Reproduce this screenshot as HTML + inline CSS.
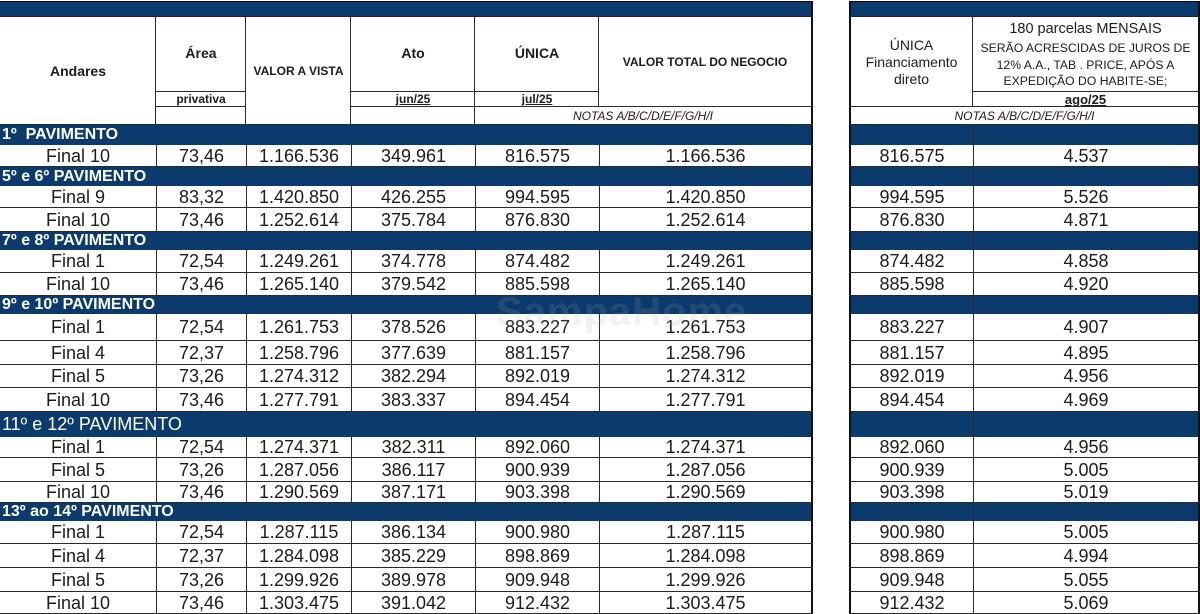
<!DOCTYPE html>
<html><head><meta charset="utf-8">
<style>
body{margin:0;width:1200px;height:613px;background:#fff;position:relative;overflow:hidden;font-family:"Liberation Sans",Arial,sans-serif;color:#1c1c1c}
div{box-sizing:border-box}
.ab{position:absolute}
.ln{position:absolute;background:#2a2a2a}
.r{position:absolute;left:0;width:813px;border-bottom:1px solid #2a2a2a;background:#fff}
.q{position:absolute;left:849px;width:351px;border-bottom:1px solid #2a2a2a;background:#fff}
.c{position:absolute;top:0;bottom:0;display:flex;align-items:center;justify-content:center;font-size:18px;border-left:1px solid #2a2a2a;padding-top:1px}
.a{left:0;width:156px;border-left:none}
.b{left:156px;width:90px}
.v{left:246px;width:105px}
.t{left:351px;width:124px}
.u{left:475px;width:124px}
.w{left:599px;width:214px;border-right:2px solid #111}
.x{left:0;width:124px;border-left:2px solid #111}
.y{left:124px;width:227px;border-right:2px solid #111}
.s{position:absolute;left:0;width:813px;background:#0b3a6c;color:#fff;font-weight:bold;font-size:16px;padding-left:2px;display:flex;align-items:center;border-right:2px solid #111;white-space:nowrap}
.sq{position:absolute;left:849px;width:351px;background:#0b3a6c;border-left:2px solid #111;border-right:2px solid #111}
.sq div{position:absolute;left:122px;top:0;bottom:0;width:1px;background:#2a2a2a}
.h{position:absolute;display:flex;align-items:center;justify-content:center;text-align:center;font-weight:bold;color:#1c1c1c;white-space:nowrap}
.wm{position:absolute;left:496px;top:290px;font-size:40px;font-weight:bold;color:rgba(170,170,170,0.16);letter-spacing:1px}
</style></head><body>

<!-- top bars -->
<div class="ab" style="left:0;top:1px;width:813px;height:16px;background:#0b3a6c;border-top:1px solid #000;border-bottom:1px solid #222;border-right:2px solid #111"></div>
<div class="ab" style="left:849px;top:1px;width:351px;height:16px;background:#0b3a6c;border-top:1px solid #000;border-bottom:1px solid #222;border-left:2px solid #111;border-right:2px solid #111"></div>

<!-- left header lines -->
<div class="ln" style="left:155px;top:17px;width:1px;height:108px"></div>
<div class="ln" style="left:245px;top:17px;width:1px;height:108px"></div>
<div class="ln" style="left:350px;top:17px;width:1px;height:108px"></div>
<div class="ln" style="left:474px;top:17px;width:1px;height:108px"></div>
<div class="ln" style="left:598px;top:17px;width:1px;height:90px"></div>
<div class="ln" style="left:811px;top:17px;width:2px;height:108px;background:#111"></div>
<div class="ln" style="left:156px;top:91px;width:90px;height:1px"></div>
<div class="ln" style="left:351px;top:91px;width:248px;height:1px"></div>
<div class="ln" style="left:156px;top:106px;width:90px;height:1px"></div>
<div class="ln" style="left:351px;top:106px;width:461px;height:1px"></div>
<div class="ln" style="left:0;top:124px;width:813px;height:1px"></div>

<!-- right header lines -->
<div class="ln" style="left:849px;top:17px;width:2px;height:108px;background:#111"></div>
<div class="ln" style="left:972px;top:17px;width:1px;height:90px"></div>
<div class="ln" style="left:1198px;top:17px;width:2px;height:108px;background:#111"></div>
<div class="ln" style="left:973px;top:91px;width:226px;height:1px"></div>
<div class="ln" style="left:849px;top:106px;width:350px;height:1px"></div>
<div class="ln" style="left:849px;top:124px;width:351px;height:1px"></div>

<!-- left header text -->
<div class="h" style="left:0;top:17px;width:156px;height:107px;font-size:14px">Andares</div>
<div class="h" style="left:156px;top:40px;width:90px;height:26px;font-size:14px">Área</div>
<div class="h" style="left:156px;top:91px;width:90px;height:15px;font-size:12px">privativa</div>
<div class="h" style="left:246px;top:17px;width:105px;height:107px;font-size:12px">VALOR A VISTA</div>
<div class="h" style="left:351px;top:40px;width:124px;height:26px;font-size:14px">Ato</div>
<div class="h" style="left:351px;top:91px;width:124px;height:15px;font-size:12px;text-decoration:underline">jun/25</div>
<div class="h" style="left:475px;top:40px;width:124px;height:26px;font-size:14px">ÚNICA</div>
<div class="h" style="left:475px;top:91px;width:124px;height:15px;font-size:12px;text-decoration:underline">jul/25</div>
<div class="h" style="left:599px;top:17px;width:212px;height:90px;font-size:12px">VALOR TOTAL DO NEGOCIO</div>
<div class="h" style="left:475px;top:107px;width:336px;height:17px;font-size:12px;font-weight:normal;font-style:italic">NOTAS A/B/C/D/E/F/G/H/I</div>

<!-- right header text -->
<div class="h" style="left:851px;top:17px;width:121px;height:90px;font-size:14px;font-weight:normal;line-height:17px">ÚNICA<br>Financiamento<br>direto</div>
<div class="h" style="left:973px;top:19px;width:225px;height:20px;font-size:14.5px;font-weight:normal">180 parcelas MENSAIS</div>
<div class="h" style="left:973px;top:39px;width:225px;height:52px;font-size:12.2px;font-weight:normal;line-height:16.5px">SERÃO ACRESCIDAS DE JUROS DE<br>12% A.A., TAB . PRICE, APÓS A<br>EXPEDIÇÃO DO HABITE-SE;</div>
<div class="h" style="left:973px;top:91px;width:225px;height:16px;font-size:13px;text-decoration:underline">ago/25</div>
<div class="h" style="left:851px;top:107px;width:347px;height:17px;font-size:12px;font-weight:normal;font-style:italic">NOTAS A/B/C/D/E/F/G/H/I</div>

<!-- 1º PAVIMENTO -->
<div class="s" style="top:125px;height:20px">1º&nbsp; PAVIMENTO</div>
<div class="sq" style="top:125px;height:20px"><div></div></div>
<div class="r" style="top:145px;height:22px"><div class="c a">Final 10</div><div class="c b">73,46</div><div class="c v">1.166.536</div><div class="c t">349.961</div><div class="c u">816.575</div><div class="c w">1.166.536</div></div>
<div class="q" style="top:145px;height:22px"><div class="c x">816.575</div><div class="c y">4.537</div></div>

<!-- 5º e 6º -->
<div class="s" style="top:167px;height:19px">5º e 6º PAVIMENTO</div>
<div class="sq" style="top:167px;height:19px"><div></div></div>
<div class="r" style="top:186px;height:22px"><div class="c a">Final 9</div><div class="c b">83,32</div><div class="c v">1.420.850</div><div class="c t">426.255</div><div class="c u">994.595</div><div class="c w">1.420.850</div></div>
<div class="q" style="top:186px;height:22px"><div class="c x">994.595</div><div class="c y">5.526</div></div>
<div class="r" style="top:208px;height:24px"><div class="c a">Final 10</div><div class="c b">73,46</div><div class="c v">1.252.614</div><div class="c t">375.784</div><div class="c u">876.830</div><div class="c w">1.252.614</div></div>
<div class="q" style="top:208px;height:24px"><div class="c x">876.830</div><div class="c y">4.871</div></div>

<!-- 7º e 8º -->
<div class="s" style="top:232px;height:18px">7º e 8º PAVIMENTO</div>
<div class="sq" style="top:232px;height:18px"><div></div></div>
<div class="r" style="top:250px;height:23px"><div class="c a">Final 1</div><div class="c b">72,54</div><div class="c v">1.249.261</div><div class="c t">374.778</div><div class="c u">874.482</div><div class="c w">1.249.261</div></div>
<div class="q" style="top:250px;height:23px"><div class="c x">874.482</div><div class="c y">4.858</div></div>
<div class="r" style="top:273px;height:23px"><div class="c a">Final 10</div><div class="c b">73,46</div><div class="c v">1.265.140</div><div class="c t">379.542</div><div class="c u">885.598</div><div class="c w">1.265.140</div></div>
<div class="q" style="top:273px;height:23px"><div class="c x">885.598</div><div class="c y">4.920</div></div>

<!-- 9º e 10º -->
<div class="s" style="top:296px;height:18px">9º e 10º PAVIMENTO</div>
<div class="sq" style="top:296px;height:18px"><div></div></div>
<div class="r" style="top:314px;height:27px"><div class="c a">Final 1</div><div class="c b">72,54</div><div class="c v">1.261.753</div><div class="c t">378.526</div><div class="c u">883.227</div><div class="c w">1.261.753</div></div>
<div class="q" style="top:314px;height:27px"><div class="c x">883.227</div><div class="c y">4.907</div></div>
<div class="r" style="top:341px;height:24px"><div class="c a">Final 4</div><div class="c b">72,37</div><div class="c v">1.258.796</div><div class="c t">377.639</div><div class="c u">881.157</div><div class="c w">1.258.796</div></div>
<div class="q" style="top:341px;height:24px"><div class="c x">881.157</div><div class="c y">4.895</div></div>
<div class="r" style="top:365px;height:23px"><div class="c a">Final 5</div><div class="c b">73,26</div><div class="c v">1.274.312</div><div class="c t">382.294</div><div class="c u">892.019</div><div class="c w">1.274.312</div></div>
<div class="q" style="top:365px;height:23px"><div class="c x">892.019</div><div class="c y">4.956</div></div>
<div class="r" style="top:388px;height:24px"><div class="c a">Final 10</div><div class="c b">73,46</div><div class="c v">1.277.791</div><div class="c t">383.337</div><div class="c u">894.454</div><div class="c w">1.277.791</div></div>
<div class="q" style="top:388px;height:24px"><div class="c x">894.454</div><div class="c y">4.969</div></div>

<!-- 11º e 12º -->
<div class="s" style="top:412px;height:25px;font-weight:normal;font-size:18px">11º e 12º PAVIMENTO</div>
<div class="sq" style="top:412px;height:25px"><div></div></div>
<div class="r" style="top:437px;height:21px"><div class="c a">Final 1</div><div class="c b">72,54</div><div class="c v">1.274.371</div><div class="c t">382.311</div><div class="c u">892.060</div><div class="c w">1.274.371</div></div>
<div class="q" style="top:437px;height:21px"><div class="c x">892.060</div><div class="c y">4.956</div></div>
<div class="r" style="top:458px;height:24px"><div class="c a">Final 5</div><div class="c b">73,26</div><div class="c v">1.287.056</div><div class="c t">386.117</div><div class="c u">900.939</div><div class="c w">1.287.056</div></div>
<div class="q" style="top:458px;height:24px"><div class="c x">900.939</div><div class="c y">5.005</div></div>
<div class="r" style="top:482px;height:21px"><div class="c a">Final 10</div><div class="c b">73,46</div><div class="c v">1.290.569</div><div class="c t">387.171</div><div class="c u">903.398</div><div class="c w">1.290.569</div></div>
<div class="q" style="top:482px;height:21px"><div class="c x">903.398</div><div class="c y">5.019</div></div>

<!-- 13º ao 14º -->
<div class="s" style="top:503px;height:18px">13º ao 14º PAVIMENTO</div>
<div class="sq" style="top:503px;height:18px"><div></div></div>
<div class="r" style="top:521px;height:23px"><div class="c a">Final 1</div><div class="c b">72,54</div><div class="c v">1.287.115</div><div class="c t">386.134</div><div class="c u">900.980</div><div class="c w">1.287.115</div></div>
<div class="q" style="top:521px;height:23px"><div class="c x">900.980</div><div class="c y">5.005</div></div>
<div class="r" style="top:544px;height:24px"><div class="c a">Final 4</div><div class="c b">72,37</div><div class="c v">1.284.098</div><div class="c t">385.229</div><div class="c u">898.869</div><div class="c w">1.284.098</div></div>
<div class="q" style="top:544px;height:24px"><div class="c x">898.869</div><div class="c y">4.994</div></div>
<div class="r" style="top:568px;height:24px"><div class="c a">Final 5</div><div class="c b">73,26</div><div class="c v">1.299.926</div><div class="c t">389.978</div><div class="c u">909.948</div><div class="c w">1.299.926</div></div>
<div class="q" style="top:568px;height:24px"><div class="c x">909.948</div><div class="c y">5.055</div></div>
<div class="r" style="top:592px;height:22px"><div class="c a">Final 10</div><div class="c b">73,46</div><div class="c v">1.303.475</div><div class="c t">391.042</div><div class="c u">912.432</div><div class="c w">1.303.475</div></div>
<div class="q" style="top:592px;height:22px"><div class="c x">912.432</div><div class="c y">5.069</div></div>

<!-- watermark -->
<div class="wm">SampaHome</div>

</body></html>
